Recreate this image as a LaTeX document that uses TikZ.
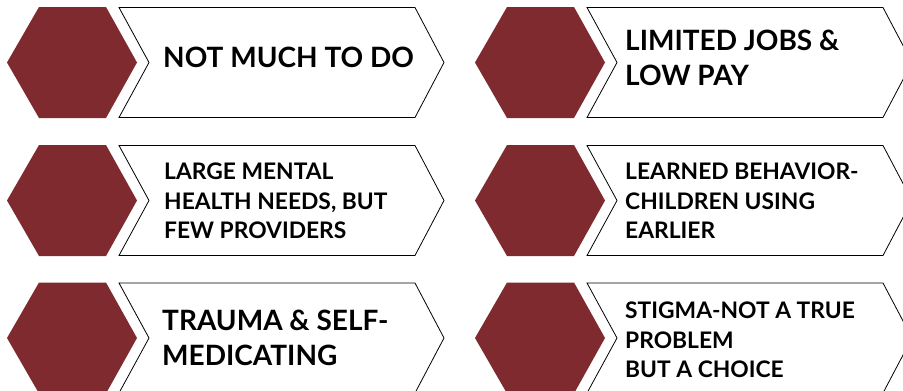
\documentclass[tikz,border=0pt]{standalone}
\usepackage{fontspec}
\setmainfont{Lato}
\definecolor{hexred}{HTML}{7E2A2E}
\tikzset{
  hexfill/.style={fill=hexred, draw=none},
  chev/.style={draw=black, line width=0.8pt, fill=white, line join=miter},
  bigtxt/.style={anchor=north west, inner sep=0pt, align=left, font=\fontsize{28}{34.5}\selectfont\bfseries},
  smalltxt/.style={anchor=north west, inner sep=0pt, align=left, font=\fontsize{22.8}{29.5}\selectfont\bfseries},
}
\newcommand{\hexat}[2]{%
  \fill[hexfill] (#1-65,#2) -- (#1-33,#2-55.5) -- (#1+34,#2-55.5) -- (#1+65,#2) -- (#1+34,#2+55.5) -- (#1-33,#2+55.5) -- cycle;}
\newcommand{\chevat}[2]{%
  \draw[chev] (#1,#2-55) -- (#1+296,#2-55) -- (#1+325,#2) -- (#1+296,#2+55) -- (#1,#2+55) -- (#1+30,#2) -- cycle;}
\begin{document}
\begin{tikzpicture}[x=1pt,y=-1pt]
\useasboundingbox (0,0) rectangle (903,391);
\fill[white] (0,0) rectangle (903,391);
\clip (0,0) rectangle (903,391);
% left column
\hexat{72}{62.5}
\chevat{119}{62.5}
\hexat{72}{200.5}
\chevat{119}{200.5}
\hexat{72}{338}
\chevat{119}{338}
% right column
\hexat{540}{62.5}
\chevat{587}{62.5}
\hexat{540}{200.5}
\chevat{587}{200.5}
\hexat{540}{338}
\chevat{587}{338}
% texts
\node[bigtxt] (t1) at (163,46.5) {NOT MUCH TO DO};
\node[bigtxt] (t2) at (625,30) {LIMITED JOBS \&\\LOW PAY};
\node[smalltxt] (t3) at (164,163) {LARGE MENTAL\\HEALTH NEEDS, BUT\\FEW PROVIDERS};
\node[smalltxt] (t4) at (625,163) {LEARNED BEHAVIOR-\\CHILDREN USING\\EARLIER};
\node[bigtxt] (t5) at (162,310) {TRAUMA \& SELF-\\MEDICATING};
\node[smalltxt] (t6) at (625,302) {STIGMA-NOT A TRUE\\PROBLEM\\BUT A CHOICE};
\end{tikzpicture}
\end{document}
